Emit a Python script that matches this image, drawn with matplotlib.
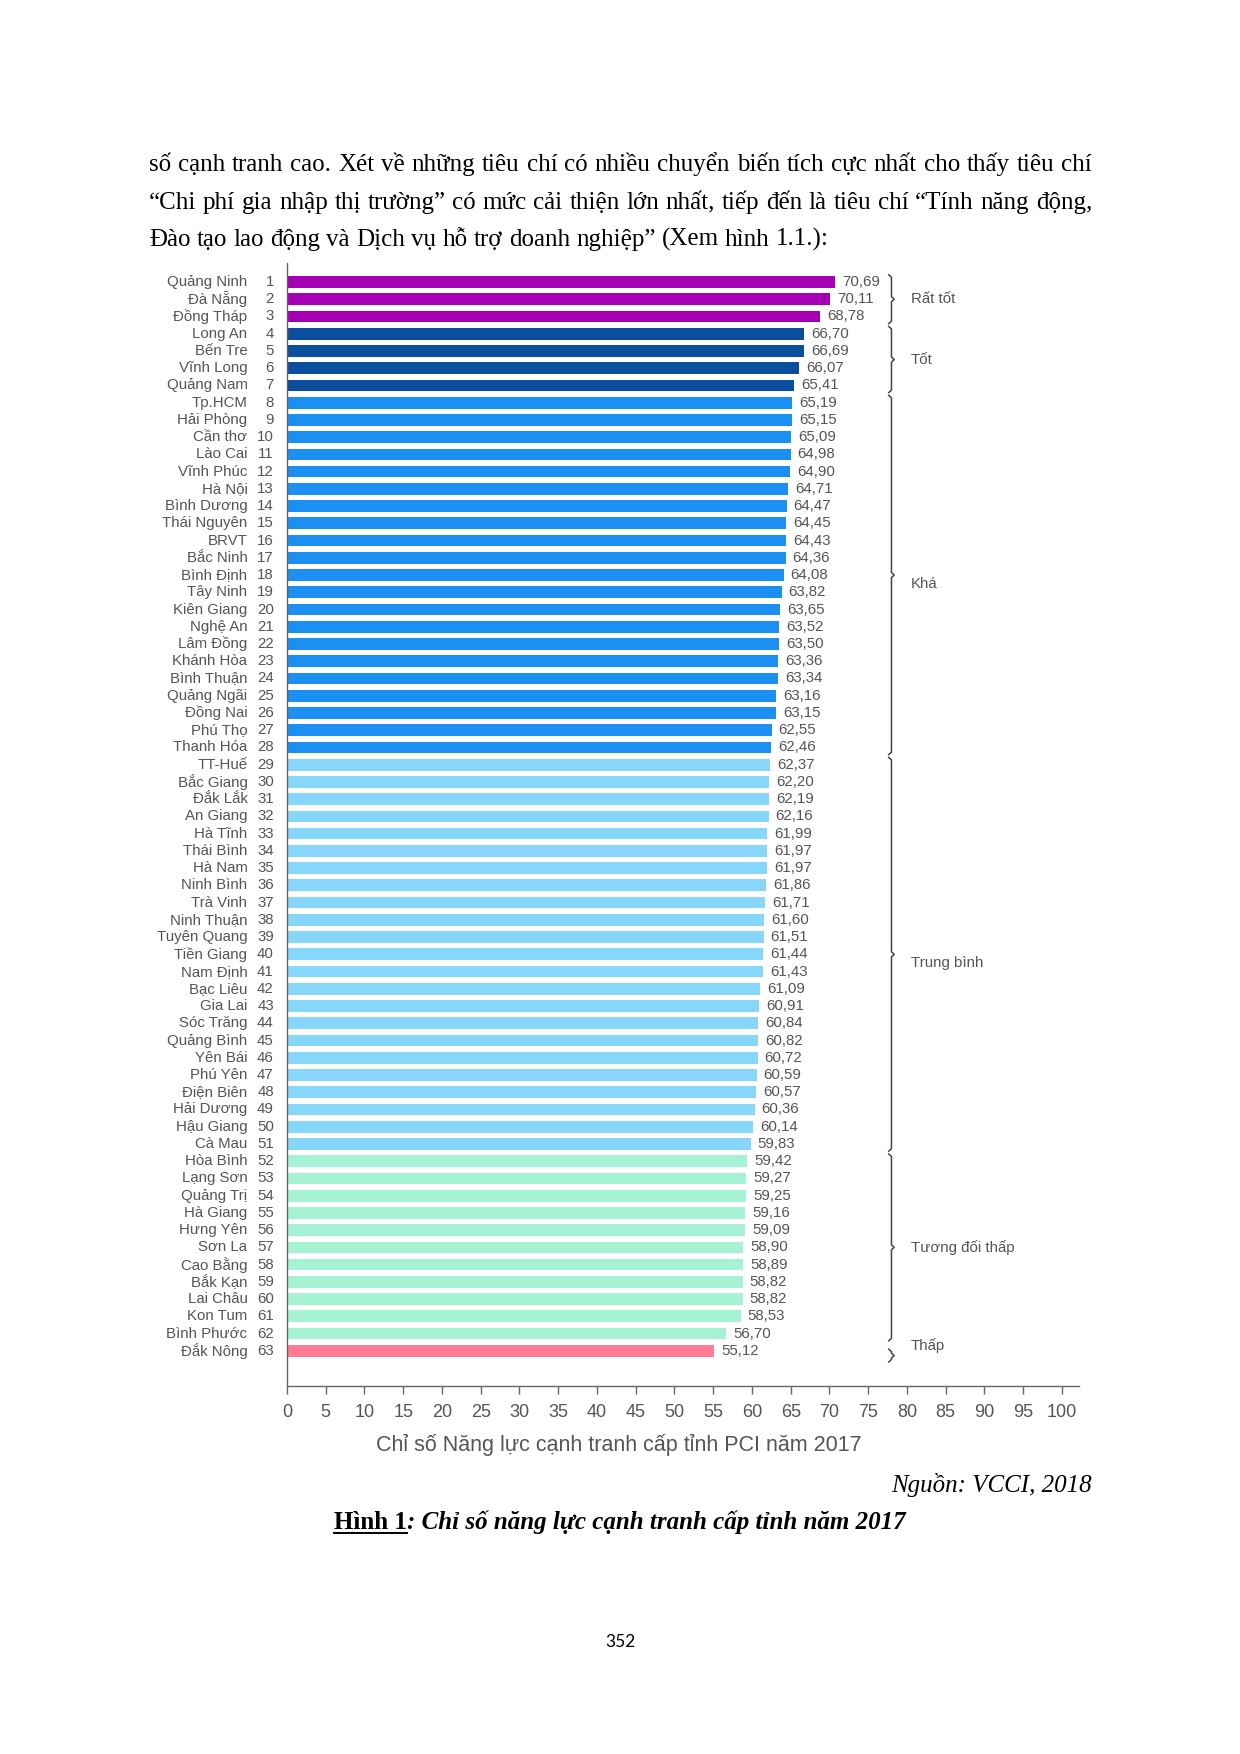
import matplotlib
matplotlib.use("Agg")
import matplotlib.pyplot as plt

# ---------------- data ----------------
provinces = ["Quảng Ninh", "Đà Nẵng", "Đồng Tháp", "Long An", "Bến Tre", "Vĩnh Long", "Quảng Nam",
             "Tp.HCM", "Hải Phòng", "Cần thơ", "Lào Cai", "Vĩnh Phúc", "Hà Nội", "Bình Dương",
             "Thái Nguyên", "BRVT", "Bắc Ninh", "Bình Định", "Tây Ninh", "Kiên Giang", "Nghệ An",
             "Lâm Đồng", "Khánh Hòa", "Bình Thuận", "Quảng Ngãi", "Đồng Nai", "Phú Thọ", "Thanh Hóa",
             "TT-Huế", "Bắc Giang", "Đắk Lắk", "An Giang", "Hà Tĩnh", "Thái Bình", "Hà Nam",
             "Ninh Bình", "Trà Vinh", "Ninh Thuận", "Tuyên Quang", "Tiền Giang", "Nam Định",
             "Bạc Liêu", "Gia Lai", "Sóc Trăng", "Quảng Bình", "Yên Bái", "Phú Yên", "Điện Biên",
             "Hải Dương", "Hậu Giang", "Cà Mau", "Hòa Bình", "Lạng Sơn", "Quảng Trị", "Hà Giang",
             "Hưng Yên", "Sơn La", "Cao Bằng", "Bắk Kạn", "Lai Châu", "Kon Tum", "Bình Phước",
             "Đắk Nông"]
pci_2017 = [70.69, 70.11, 68.78, 66.70, 66.69, 66.07, 65.41, 65.19, 65.15, 65.09, 64.98, 64.90,
            64.71, 64.47, 64.45, 64.43, 64.36, 64.08, 63.82, 63.65, 63.52, 63.50, 63.36, 63.34,
            63.16, 63.15, 62.55, 62.46, 62.37, 62.20, 62.19, 62.16, 61.99, 61.97, 61.97, 61.86,
            61.71, 61.60, 61.51, 61.44, 61.43, 61.09, 60.91, 60.84, 60.82, 60.72, 60.59, 60.57,
            60.36, 60.14, 59.83, 59.42, 59.27, 59.25, 59.16, 59.09, 58.90, 58.89, 58.82, 58.82,
            58.53, 56.70, 55.12]
group_names = ["Rất tốt", "Tốt", "Khá", "Trung bình", "Tương đối thấp", "Thấp"]
group_sizes = [3, 4, 21, 23, 11, 1]
group_colors = ["#A600B4", "#0B4E9E", "#1B90F2", "#87D7FA", "#A6F2D4", "#FF7B96"]
x_ticks = list(range(0, 101, 5))
x_label = "Chỉ số Năng lực cạnh tranh cấp tỉnh PCI năm 2017"

para_lines = [
    "số cạnh tranh cao. Xét về những tiêu chí có nhiều chuyển biến tích cực nhất cho thấy tiêu chí",
    "“Chi phí gia nhập thị trường” có mức cải thiện lớn nhất, tiếp đến là tiêu chí “Tính năng động,",
    "Đào tạo lao động và Dịch vụ hỗ trợ doanh nghiệp” (Xem hình 1.1.):",
]
source_text = "Nguồn: VCCI, 2018"
caption_a = "Hình 1"
caption_b = ": Chỉ số năng lực cạnh tranh cấp tỉnh năm 2017"
page_no = "352"

# ---------------- figure ----------------
W, H = 1240, 1754
fig = plt.figure(figsize=(W / 100, H / 100), dpi=100)
fig.patch.set_facecolor("white")
renderer = fig.canvas.get_renderer()

def fx(x):
    return x / W

def fy(y):
    return 1 - y / H

SERIF = ["Liberation Serif", "DejaVu Serif"]
SANS = ["Liberation Sans", "DejaVu Sans"]
GRAY = "#555555"

PFS = 18
def text_width(t):
    return t.get_window_extent(renderer=renderer).width

sp1 = fig.text(0, 0, "a a", fontsize=PFS, family=SERIF)
sp2 = fig.text(0, 0, "aa", fontsize=PFS, family=SERIF)
SPACE = text_width(sp1) - text_width(sp2)
sp1.remove(); sp2.remove()

def justify(line, y, x0, x1, full=True):
    words = line.split(" ")
    objs = [fig.text(0, fy(y), w, fontsize=PFS, family=SERIF, va="baseline", ha="left")
            for w in words]
    widths = [text_width(o) for o in objs]
    gap = SPACE
    if full and len(words) > 1:
        gap = max((x1 - x0 - sum(widths)) / (len(words) - 1), 0.5 * SPACE)
    x = x0
    for o, w in zip(objs, widths):
        o.set_x(fx(x))
        x += w + gap

justify(para_lines[0], 171, 149, 1092)
justify(para_lines[1], 209, 149, 1092)
justify(para_lines[2], 246, 149, 1092, full=False)

# ---------------- chart ----------------
ax = fig.add_axes([287 / W, 1 - 1386 / H, (1079 - 287) / W, (1386 - 263) / H])
n = len(provinces)
ypos = list(range(n))
colors = []
for c, s in zip(group_colors, group_sizes):
    colors += [c] * s
ax.barh(ypos, pci_2017, height=0.68, color=colors, edgecolor="none")
ax.set_xlim(0, 102.2)
ax.set_ylim(64.04, -1.10)

for i, (name, v) in enumerate(zip(provinces, pci_2017)):
    ax.text(-5.1, i, name, ha="right", va="center", fontsize=10.8, color=GRAY,
            family=SANS, clip_on=False)
    ax.text(-1.7, i, str(i + 1), ha="right", va="center", fontsize=10.8, color=GRAY,
            family=SANS, clip_on=False)
    ax.text(v + 0.9, i, f"{v:.2f}".replace(".", ","), ha="left", va="center",
            fontsize=10.8, color=GRAY, family=SANS)

# brackets
bx = 78.0
start = 0
for gname, gs in zip(group_names, group_sizes):
    y0 = start - 0.42
    y1 = start + gs - 1 + 0.42
    if gs == 1:
        y0, y1 = start - 0.1, start + 0.65
    mid = (y0 + y1) / 2
    ax.plot([bx - 0.35, bx, bx, bx + 0.35, bx, bx, bx - 0.35],
            [y0, y0 + 0.15, mid - 0.15, mid, mid + 0.15, y1 - 0.15, y1],
            color="#444444", lw=1.1, clip_on=False, solid_joinstyle="round")
    ly = mid if gs > 1 else start - 0.3
    if gs > 15:
        ly += 0.5
    ax.text(bx + 2.5, ly, gname, ha="left", va="center", fontsize=10.8, color=GRAY,
            family=SANS)
    start += gs

for sp in ["top", "right"]:
    ax.spines[sp].set_visible(False)
for sp in ["left", "bottom"]:
    ax.spines[sp].set_color("#666666")
    ax.spines[sp].set_linewidth(1.0)
ax.set_yticks([])
ax.set_xticks(x_ticks)
ax.set_xticklabels([str(t) for t in x_ticks], fontsize=13, color=GRAY, family=SANS)
ax.tick_params(axis="x", direction="out", length=6, width=1, color="#666666", pad=7)
ax.set_xlabel(x_label, fontsize=15.5, color=GRAY, family=SANS, labelpad=9,
              x=(619 - 287) / (1079 - 287))

# ---------------- captions ----------------
CFS = 18
fig.text(fx(1092), fy(1492), source_text, ha="right", va="baseline", fontsize=CFS,
         family=SERIF, style="italic")
ta = fig.text(0, fy(1529), caption_a, ha="left", va="baseline", fontsize=CFS,
              family=SERIF, weight="bold")
tb = fig.text(0, fy(1529), caption_b, ha="left", va="baseline", fontsize=CFS,
              family=SERIF, weight="bold", style="italic")
wa, wb = text_width(ta), text_width(tb)
xs = 620 - (wa + wb) / 2
ta.set_x(fx(xs))
tb.set_x(fx(xs + wa))
fig.add_artist(plt.Line2D([fx(xs), fx(xs + wa)], [fy(1533), fy(1533)], color="black", lw=1.4))

fig.text(fx(620), fy(1647), page_no, ha="center", va="baseline", fontsize=12.5,
         family=["Lato", "DejaVu Sans"])

fig.savefig("out.png", dpi=100, facecolor="white")
